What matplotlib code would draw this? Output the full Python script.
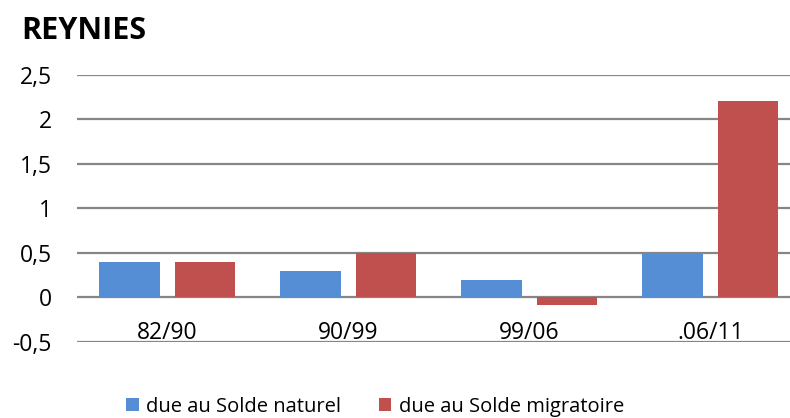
import matplotlib
matplotlib.use("Agg")
import matplotlib.pyplot as plt
import numpy as np

categories = ["82/90", "90/99", "99/06", ".06/11"]
naturel = [0.4, 0.3, 0.2, 0.5]
migratoire = [0.4, 0.5, -0.09, 2.2]
yticks = [-0.5, 0, 0.5, 1, 1.5, 2, 2.5]
ytick_labels = ["-0,5", "0", "0,5", "1", "1,5", "2", "2,5"]
series_names = ["due au Solde naturel", "due au Solde migratoire"]
title = "REYNIES"

blue = "#558ED5"
red = "#C0504D"
grid = "#868686"
font = "Open Sans"

W, H = 790, 418
fig = plt.figure(figsize=(W / 100, H / 100), dpi=100)
ax = fig.add_axes([76.7 / W, 1 - 342 / H, 724 / W, (342 - 74.7) / H])

x = np.arange(len(categories))
bw = 0.334
off = 0.2095
ax.bar(x - off, naturel, bw, color=blue, label=series_names[0], zorder=3)
ax.bar(x + off, migratoire, bw, color=red, label=series_names[1], zorder=3)

ax.spines["bottom"].set_position(("data", 0))
for s in ax.spines.values():
    s.set_visible(False)

ax.set_xlim(-0.5, len(categories) - 0.5)
ax.set_ylim(-0.5, 2.5)
ax.set_yticks(yticks)
ax.set_yticklabels(ytick_labels, fontfamily=font, fontsize=16.5)
ax.yaxis.grid(True, color=grid, linewidth=1.6, zorder=0)
ax.tick_params(axis="y", length=0, pad=18)

ax.set_xticks(x)
ax.set_xticklabels(categories, fontfamily=font, fontsize=16.5)
ax.tick_params(axis="x", length=0, pad=17)

fig.text(21 / W, 1 - 31 / H, title, fontfamily=font, fontweight="bold",
         fontsize=22, va="center", ha="left")

leg = fig.legend(loc="center", bbox_to_anchor=(375 / W, 1 - 407 / H), ncol=2,
                 frameon=False, prop={"family": font, "size": 14.5},
                 handlelength=0.62, handleheight=0.62, handletextpad=0.35,
                 columnspacing=1.9)

fig.savefig("out.png", dpi=100)
